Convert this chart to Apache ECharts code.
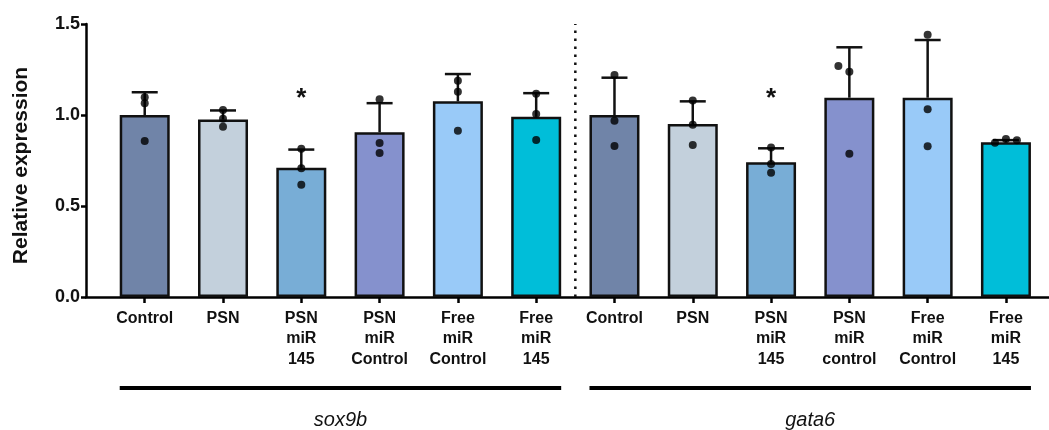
<!DOCTYPE html>
<html>
<head>
<meta charset="utf-8">
<script src="https://cdn.jsdelivr.net/npm/echarts@6/dist/echarts.min.js"></script>
<style>
  html, body { margin: 0; padding: 0; background: #fff; }
  #chart { width: 1049px; height: 430px; }
</style>
</head>
<body>
<div id="chart"></div>
<script>
// ---- data ----
const categories = [
  'Control', 'PSN', 'PSN\nmiR\n145', 'PSN\nmiR\nControl', 'Free\nmiR\nControl', 'Free\nmiR\n145',
  'Control', 'PSN', 'PSN\nmiR\n145', 'PSN\nmiR\ncontrol', 'Free\nmiR\nControl', 'Free\nmiR\n145'
];
const means = [1.00, 0.975, 0.71, 0.905, 1.075, 0.99, 1.00, 0.95, 0.74, 1.095, 1.095, 0.85];
const sdUpper = [0.125, 0.05, 0.10, 0.16, 0.15, 0.13, 0.205, 0.125, 0.077, 0.277, 0.317, 0.012];
const points = [
  [1.097, 1.064, 0.857],
  [1.027, 0.980, 0.936],
  [0.815, 0.707, 0.617],
  [1.086, 0.846, 0.791],
  [1.188, 1.128, 0.914],
  [1.117, 1.005, 0.863],
  [1.220, 0.969, 0.830],
  [1.079, 0.947, 0.835],
  [0.822, 0.731, 0.683],
  [1.269, 1.238, 0.787],
  [1.441, 1.031, 0.828],
  [0.848, 0.868, 0.861]
];
const pointJitter = [
  [0, 0, 0], [0, 0, 0], [0, 0, 0], [0, 0, 0], [0, 0, 0], [0, 0, 0],
  [0, 0, 0], [0, 0, 0], [0, 0, 0], [-0.14, 0, 0], [0, 0, 0], [-0.14, 0, 0.14]
];
const barColors = ['#7084A8', '#C3D0DC', '#78ADD6', '#8591CD', '#99CAF8', '#00BED9',
                   '#7084A8', '#C3D0DC', '#78ADD6', '#8591CD', '#99CAF8', '#00BED9'];
const groups = [
  { name: 'sox9b', from: 0, to: 5 },
  { name: 'gata6', from: 6, to: 11 }
];
const sigIndex = [2, 8];
const sigLevel = 1.09;
const separatorAt = 5.5;
const yTicks = [0, 0.5, 1.0, 1.5];
const yName = 'Relative expression';

// ---- chart ----
const FONT = '"Liberation Sans", Arial, Helvetica, sans-serif';
const chart = echarts.init(document.getElementById('chart'), null, { renderer: 'canvas' });
const idx = categories.map((_, i) => i);

const scatterData = [];
points.forEach((arr, i) => arr.forEach((v, k) => scatterData.push([i + pointJitter[i][k], v])));

const option = {
  animation: false,
  backgroundColor: '#fff',
  grid: { left: 86, right: 0, top: 24, bottom: 133, containLabel: false },
  xAxis: {
    type: 'value', min: -0.75, max: 11.55,
    splitLine: { show: false },
    axisLine: { show: true, onZero: false, lineStyle: { color: '#000', width: 2.5 } },
    axisTick: { show: true, customValues: idx, length: 6, lineStyle: { color: '#000', width: 2.5 } },
    axisLabel: {
      customValues: idx,
      formatter: v => categories[Math.round(v)],
      margin: 11, color: '#111', fontFamily: FONT, fontWeight: 'bold', fontSize: 16, lineHeight: 20.5,
      align: 'center'
    }
  },
  yAxis: {
    type: 'value', min: yTicks[0], max: yTicks[yTicks.length - 1], interval: 0.5,
    name: yName, nameLocation: 'middle', nameGap: 54,
    nameTextStyle: { color: '#111', fontFamily: FONT, fontWeight: 'bold', fontSize: 21, padding: [0, 10, 0, 0] },
    splitLine: { show: false },
    axisLine: { show: true, onZero: false, lineStyle: { color: '#000', width: 2.5 } },
    axisTick: { show: true, length: 5, lineStyle: { color: '#000', width: 2.5 } },
    axisLabel: {
      formatter: v => v.toFixed(1), margin: 6,
      color: '#111', fontFamily: FONT, fontWeight: 'bold', fontSize: 18
    }
  },
  series: [
    {
      type: 'bar', z: 2, barWidth: 50,
      data: means.map((m, i) => ({ value: [i, m], itemStyle: { color: barColors[i] } })),
      itemStyle: { borderColor: '#111', borderWidth: 2.5 }
    },
    {
      type: 'custom', z: 3,
      data: means.map((m, i) => [i, m, m + sdUpper[i]]),
      renderItem: (params, api) => {
        const p0 = api.coord([api.value(0), api.value(1)]);
        const p1 = api.coord([api.value(0), api.value(2)]);
        const st = { stroke: '#111', lineWidth: 2.5 };
        return { type: 'group', children: [
          { type: 'line', shape: { x1: p0[0], y1: p0[1], x2: p1[0], y2: p1[1] }, style: st },
          { type: 'line', shape: { x1: p1[0] - 13, y1: p1[1], x2: p1[0] + 13, y2: p1[1] }, style: st }
        ]};
      }
    },
    {
      type: 'scatter', z: 4, symbol: 'circle', symbolSize: 8,
      itemStyle: { color: '#000' },
      data: scatterData
    },
    {
      type: 'custom', z: 5,
      data: sigIndex.map(i => [i, sigLevel]),
      renderItem: (params, api) => {
        const p = api.coord([api.value(0), api.value(1)]);
        return { type: 'text', x: p[0], y: p[1], style: {
          text: '*', fill: '#111', fontFamily: FONT, fontWeight: 'bold', fontSize: 26,
          align: 'center', verticalAlign: 'middle' } };
      }
    },
    {
      type: 'custom', z: 1,
      data: [[separatorAt, 0, 1.5]],
      renderItem: (params, api) => {
        const p0 = api.coord([api.value(0), api.value(1)]);
        const p1 = api.coord([api.value(0), api.value(2)]);
        return { type: 'line', shape: { x1: p0[0], y1: p0[1], x2: p1[0], y2: p1[1] },
          style: { stroke: '#111', lineWidth: 2.5, lineDash: [2.5, 5.5] } };
      }
    },
    {
      type: 'custom', z: 5,
      data: groups.map(g => [(g.from + g.to) / 2, 0]),
      renderItem: (params, api) => {
        const g = groups[params.dataIndex];
        const a = api.coord([g.from, 0]);
        const b = api.coord([g.to, 0]);
        return { type: 'group', children: [
          { type: 'line', shape: { x1: a[0] - 25, y1: a[1] + 91, x2: b[0] + 25, y2: a[1] + 91 },
            style: { stroke: '#000', lineWidth: 4 } },
          { type: 'text', x: (a[0] + b[0]) / 2, y: a[1] + 123, style: {
            text: g.name, fill: '#111', fontFamily: FONT, fontStyle: 'italic', fontSize: 20,
            align: 'center', verticalAlign: 'middle' } }
        ]};
      }
    }
  ]
};
chart.setOption(option);
</script>
</body>
</html>
